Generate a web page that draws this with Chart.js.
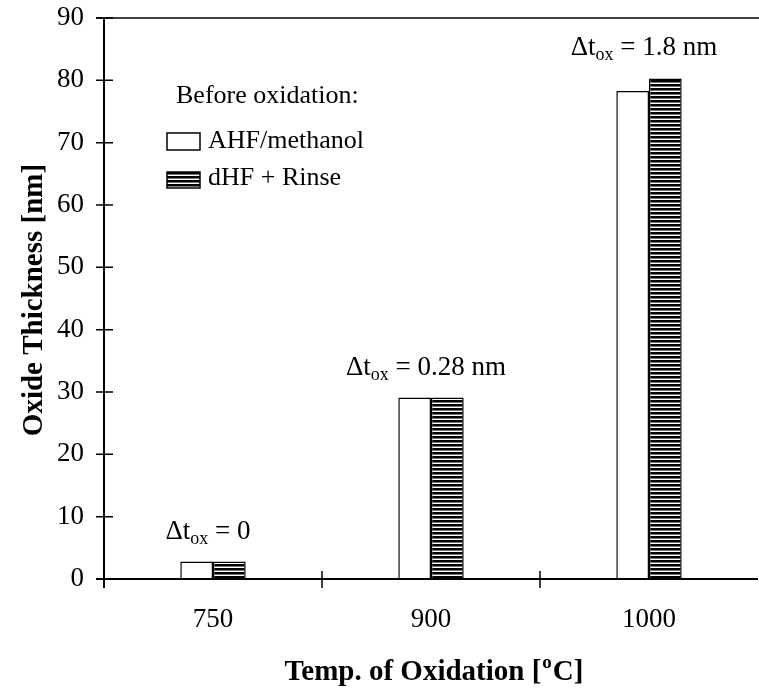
<!DOCTYPE html>
<html>
<head>
<meta charset="utf-8">
<script src="https://cdn.jsdelivr.net/npm/chart.js@4"></script>
<style>
  html, body { margin: 0; padding: 0; background: #fff; }
</style>
</head>
<body>
<canvas id="oxideChart" width="759" height="695"></canvas>
<script>
// data
const categories = ['750', '900', '1000'];
const ahfValues = [2.8, 29.1, 78.3];
const dhfValues = [2.8, 29.1, 80.3];
const seriesNames = ['AHF/methanol', 'dHF + Rinse'];
const deltaValues = ['0', '0.28 nm', '1.8 nm'];
const yTickValues = [0, 10, 20, 30, 40, 50, 60, 70, 80, 90];
const legendHeading = 'Before oxidation:';
const yTitle = 'Oxide Thickness [nm]';
const xTitleParts = ['Temp. of Oxidation [', 'o', 'C]'];

const SERIF = "'Liberation Serif', 'Times New Roman', serif";

const canvas = document.getElementById('oxideChart');
const ctx = canvas.getContext('2d');

// horizontal line hatch for the dHF bars
function makeHatch() {
    const c = document.createElement('canvas');
    c.width = 4;
    c.height = 4;
    const g = c.getContext('2d');
    g.fillStyle = '#fff';
    g.fillRect(0, 0, 4, 4);
    g.fillStyle = '#000';
    g.fillRect(0, 0, 4, 2);
    g.fillStyle = '#777';
    g.fillRect(0, 2, 4, 1);
    return ctx.createPattern(c, 'repeat');
}
const hatch = makeHatch();

function drawDelta(g, cx, baseline, valueText) {
    const big = '27px ' + SERIF;
    const small = '18px ' + SERIF;
    g.font = big;
    const w1 = g.measureText('\u0394t').width;
    const w3 = g.measureText(' = ' + valueText).width;
    g.font = small;
    const w2 = g.measureText('ox').width;
    let x = cx - (w1 + w2 + w3) / 2;
    g.textAlign = 'left';
    g.textBaseline = 'alphabetic';
    g.font = big;
    g.fillText('\u0394t', x, baseline);
    x += w1;
    g.font = small;
    g.fillText('ox', x, baseline + 5);
    x += w2;
    g.font = big;
    g.fillText(' = ' + valueText, x, baseline);
}

const decorations = {
    id: 'decorations',
    afterDraw(chart) {
        const g = chart.ctx;
        const area = chart.chartArea;
        const xs = chart.scales.x;
        const ys = chart.scales.y;
        g.save();
        g.strokeStyle = '#000';
        g.fillStyle = '#000';

        // frame: left axis, bottom axis, top line
        g.lineWidth = 2;
        g.beginPath();
        g.moveTo(area.left, area.top);
        g.lineTo(area.left, area.bottom + 9);
        g.moveTo(area.left - 8, area.bottom);
        g.lineTo(area.right, area.bottom);
        g.stroke();
        g.lineWidth = 1.5;
        g.beginPath();
        g.moveTo(area.left - 8, area.top);
        g.lineTo(area.right + 1, area.top);
        g.stroke();

        // y tick marks crossing the axis
        g.lineWidth = 1.5;
        g.beginPath();
        yTickValues.forEach(v => {
            const y = ys.getPixelForValue(v);
            g.moveTo(area.left - 8, y);
            g.lineTo(area.left + 9, y);
        });
        // x tick marks between categories
        for (let i = 0; i < categories.length - 1; i++) {
            const x = (xs.getPixelForValue(i) + xs.getPixelForValue(i + 1)) / 2;
            g.moveTo(x, area.bottom - 8);
            g.lineTo(x, area.bottom + 9);
        }
        g.stroke();

        // delta t_ox annotations over each pair
        categories.forEach((c, i) => {
            const top = Math.max(ahfValues[i], dhfValues[i]);
            const y = ys.getPixelForValue(top) - 23;
            drawDelta(g, xs.getPixelForValue(i) - 5, y, deltaValues[i]);
        });

        // legend
        g.font = '26px ' + SERIF;
        g.textAlign = 'left';
        g.textBaseline = 'alphabetic';
        g.fillText(legendHeading, 176, 103);
        g.lineWidth = 1.5;
        g.fillStyle = '#fff';
        g.fillRect(167, 133, 33, 17);
        g.strokeRect(167, 133, 33, 17);
        g.fillStyle = hatch;
        g.fillRect(167, 172, 33, 16);
        g.strokeRect(167, 172, 33, 16);
        g.fillStyle = '#000';
        g.fillText(seriesNames[0], 208, 148);
        g.fillText(seriesNames[1], 208, 185);

        // axis titles
        g.font = 'bold 29px ' + SERIF;
        g.textAlign = 'center';
        g.save();
        g.translate(42, 300);
        g.rotate(-Math.PI / 2);
        g.fillText(yTitle, 0, 0);
        g.restore();

        const bigB = 'bold 29px ' + SERIF;
        const supB = 'bold 19px ' + SERIF;
        g.font = bigB;
        const a = g.measureText(xTitleParts[0]).width;
        const c2 = g.measureText(xTitleParts[2]).width;
        g.font = supB;
        const b = g.measureText(xTitleParts[1]).width;
        let x = 433 - (a + b + c2) / 2;
        g.textAlign = 'left';
        g.font = bigB;
        g.fillText(xTitleParts[0], x, 680);
        x += a;
        g.font = supB;
        g.fillText(xTitleParts[1], x + 1, 668);
        x += b + 2;
        g.font = bigB;
        g.fillText(xTitleParts[2], x, 680);

        g.restore();
    }
};

new Chart(ctx, {
    type: 'bar',
    data: {
        labels: categories,
        datasets: [{
            label: seriesNames[0],
            data: ahfValues,
            backgroundColor: '#fff',
            borderColor: '#000',
            borderWidth: 1.5
        }, {
            label: seriesNames[1],
            data: dhfValues,
            backgroundColor: hatch,
            borderColor: '#000',
            borderWidth: 1.5
        }]
    },
    options: {
        responsive: false,
        animation: false,
        devicePixelRatio: 1,
        layout: { padding: { top: 18, right: 1, left: 0, bottom: 0 } },
        datasets: {
            bar: { categoryPercentage: 0.3, barPercentage: 1.0 }
        },
        scales: {
            x: {
                grid: { display: false, drawTicks: false },
                border: { display: false },
                ticks: {
                    color: '#000',
                    padding: 25,
                    font: { family: SERIF, size: 27 }
                },
                afterFit: function (scale) {
                    scale.height = 116;
                    scale.paddingLeft = 0;
                    scale.paddingRight = 0;
                }
            },
            y: {
                min: 0,
                max: 90,
                grid: { display: false, drawTicks: false },
                border: { display: false },
                ticks: {
                    stepSize: 10,
                    color: '#000',
                    padding: 20,
                    font: { family: SERIF, size: 27 }
                },
                afterFit: function (scale) {
                    scale.width = 104;
                    scale.paddingTop = 0;
                    scale.paddingBottom = 0;
                }
            }
        },
        plugins: {
            legend: { display: false },
            tooltip: { enabled: false }
        }
    },
    plugins: [decorations]
});
</script>
</body>
</html>
